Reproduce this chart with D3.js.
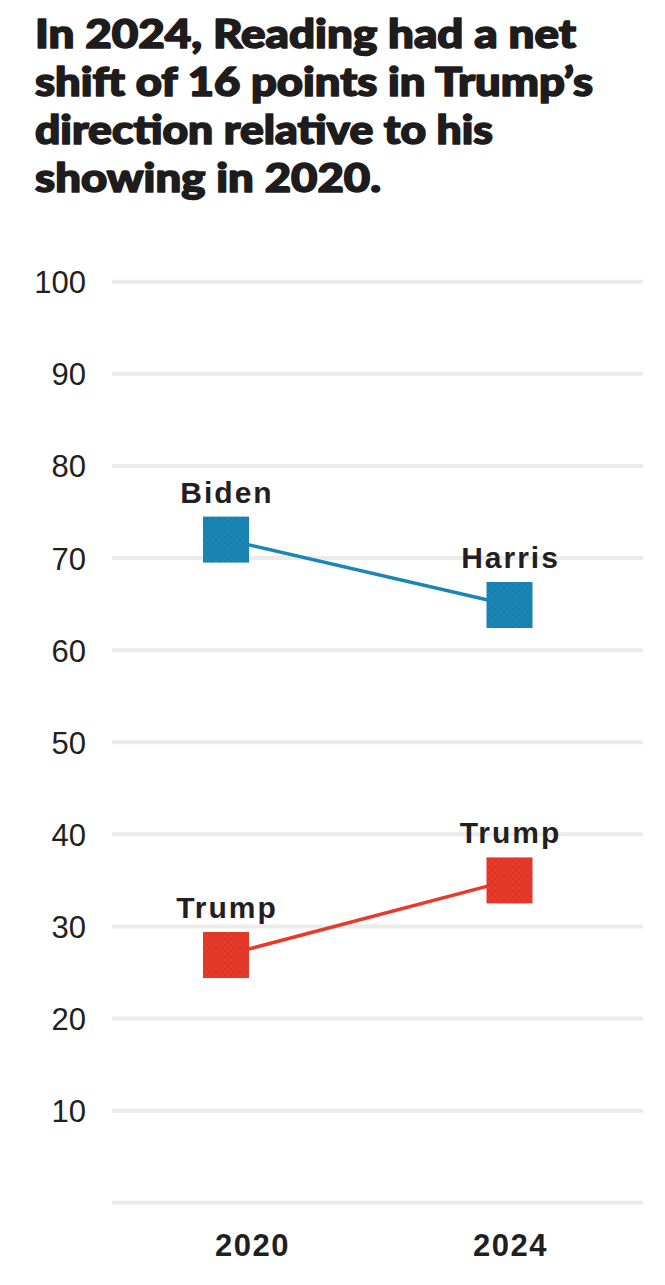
<!DOCTYPE html>
<html>
<head>
<meta charset="utf-8">
<script src="https://cdn.jsdelivr.net/npm/d3@7"></script>
<style>
  html, body { margin: 0; padding: 0; background: #fff; }
  svg { display: block; }
</style>
</head>
<body>
<svg id="chart" width="665" height="1285"></svg>
<script>
// ---- data ----
const titleLines = [
  "In 2024, Reading had a net",
  "shift of 16 points in Trump\u2019s",
  "direction relative to his",
  "showing in 2020."
];
const years = ["2020", "2024"];
const demNames = ["Biden", "Harris"];
const demValues = [72.0, 64.9];
const repNames = ["Trump", "Trump"];
const repValues = [26.9, 35.0];
const yTicks = [10, 20, 30, 40, 50, 60, 70, 80, 90, 100];
const gridValues = [0, 10, 20, 30, 40, 50, 60, 70, 80, 90, 100];

const series = [
  { key: "dem", color: "#1a86b5", names: demNames, values: demValues },
  { key: "rep", color: "#e8392a", names: repNames, values: repValues }
];

// ---- layout ----
const svg = d3.select("#chart");
const y = d3.scaleLinear().domain([0, 100]).range([1202.8, 281.7]);
const xMark = d3.scalePoint().domain(years).range([226, 509.5]);
const xAxisScale = d3.scalePoint().domain(years).range([252, 510]);
const gridX0 = 112, gridX1 = 643;
const markerSize = 46;

// title
const titleWidths = [541, 558, 458, 346];
const title = svg.append("g");
titleLines.forEach((t, i) => {
  title.append("text")
    .attr("x", 35)
    .attr("y", 48 + i * 48)
    .attr("font-family", "Lato, 'Liberation Sans', Arial, sans-serif")
    .attr("font-weight", 900)
    .attr("font-size", 39)
    .attr("fill", "#1e1c1c")
    .attr("stroke", "#1e1c1c")
    .attr("stroke-width", 1.6)
    .attr("stroke-linejoin", "round")
    .attr("textLength", titleWidths[i])
    .attr("lengthAdjust", "spacingAndGlyphs")
    .text(t);
});

// patterns for marker texture
const defs = svg.append("defs");
series.forEach(s => {
  const p = defs.append("pattern")
    .attr("id", "tex-" + s.key)
    .attr("patternUnits", "userSpaceOnUse")
    .attr("width", 6).attr("height", 6);
  p.append("rect").attr("width", 6).attr("height", 6).attr("fill", s.color);
  p.append("path")
    .attr("d", "M0,6 L6,0 M0,0 L6,6")
    .attr("stroke", "#000").attr("stroke-opacity", 0.07).attr("stroke-width", 1);
});

// gridlines
svg.append("g")
  .selectAll("line")
  .data(gridValues)
  .join("line")
  .attr("x1", gridX0).attr("x2", gridX1)
  .attr("y1", d => y(d)).attr("y2", d => y(d))
  .attr("stroke", "#ebebeb")
  .attr("stroke-width", 4);

// y tick labels
svg.append("g")
  .selectAll("text")
  .data(yTicks)
  .join("text")
  .attr("x", 86)
  .attr("y", d => y(d) + 11.5)
  .attr("text-anchor", "end")
  .attr("font-family", "'Liberation Sans', Arial, sans-serif")
  .attr("font-size", 31)
  .attr("fill", "#231f20")
  .text(d => d);

// x axis labels
const xAxis = d3.axisBottom(xAxisScale).tickSize(0).tickPadding(0);
const xg = svg.append("g").attr("transform", "translate(0,1256)").call(xAxis);
xg.select(".domain").remove();
xg.selectAll("text")
  .attr("dy", 0)
  .attr("y", 0)
  .attr("font-family", "'Liberation Sans', Arial, sans-serif")
  .attr("font-weight", "bold")
  .attr("font-size", 31)
  .attr("letter-spacing", 1.5)
  .attr("fill", "#231f20");

// lines + markers + labels
const line = d3.line().x(d => xMark(d.year)).y(d => y(d.value));
series.forEach(s => {
  const pts = years.map((yr, i) => ({ year: yr, value: s.values[i], name: s.names[i] }));
  const g = svg.append("g");
  g.append("path")
    .datum(pts)
    .attr("d", line)
    .attr("fill", "none")
    .attr("stroke", s.color)
    .attr("stroke-width", 3.5);
  g.selectAll("rect")
    .data(pts)
    .join("rect")
    .attr("x", d => xMark(d.year) - markerSize / 2)
    .attr("y", d => y(d.value) - markerSize / 2)
    .attr("width", markerSize)
    .attr("height", markerSize)
    .attr("fill", "url(#tex-" + s.key + ")");
  g.selectAll("text")
    .data(pts)
    .join("text")
    .attr("x", d => xMark(d.year) + 1)
    .attr("y", d => y(d.value) - 37)
    .attr("text-anchor", "middle")
    .attr("font-family", "'Liberation Sans', Arial, sans-serif")
    .attr("font-weight", "bold")
    .attr("font-size", 30)
    .attr("letter-spacing", 2)
    .attr("fill", "#231f20")
    .text(d => d.name);
});
</script>
</body>
</html>
